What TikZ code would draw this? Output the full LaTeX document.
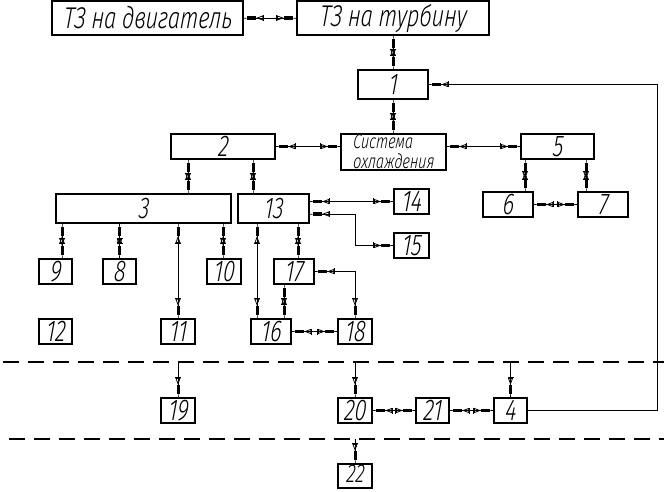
\documentclass[tikz,border=0pt]{standalone}
\usepackage{fontspec}
\setmainfont{Fira Sans Light}[ItalicFont={Fira Sans Light Italic}, ItalicFeatures={FakeSlant=0.08}, FakeStretch=0.72]
\usetikzlibrary{arrows.meta}
\tikzset{
  box/.style={draw, line width=1.1pt, inner sep=0pt, font=\itshape\fontsize{30}{32}\selectfont},
  sq/.style={box, minimum width=34pt, minimum height=25pt},
  conn/.style={line width=0.9pt},
  dbl/.style={conn, {Rectangle[length=3.5pt,width=0.9pt,sep=0pt] Rectangle[length=9pt,width=3pt,sep=0pt] Triangle[open,length=7pt,width=5pt,line width=0.8pt,sep=0pt] Bar[width=6pt,line width=1pt,sep=0pt]}-{Bar[width=6pt,line width=1pt,sep=0pt] Triangle[open,length=7pt,width=5pt,line width=0.8pt,sep=0pt] Rectangle[length=9pt,width=3pt,sep=0pt] Rectangle[length=3.5pt,width=0.9pt,sep=0pt]}},
  sgl/.style={conn, -{Bar[width=6pt,line width=1pt,sep=0pt] Triangle[open,length=7pt,width=5pt,line width=0.8pt,sep=0pt] Rectangle[length=9pt,width=3pt,sep=0pt] Rectangle[length=3.5pt,width=0.9pt,sep=0pt]}},
  dashline/.style={line width=1.3pt, dash pattern=on 16pt off 9pt},
}
\begin{document}
\begin{tikzpicture}[x=1pt,y=-1pt]
\useasboundingbox (0,0) rectangle (665,492);
% helper coordinates
\coordinate (c188) at (188,0);
\coordinate (c253) at (253,0);
\coordinate (c525) at (525,0);
\coordinate (c586) at (586,0);
\coordinate (c62) at (62,0);
\coordinate (c223) at (223,0);
\coordinate (c257) at (257,0);
\coordinate (c298) at (298,0);
\coordinate (c284) at (284,0);
\coordinate (c355) at (355,0);
\coordinate (c657) at (657,0);
\coordinate (r214) at (0,214);
\coordinate (d1s) at (3,362);
\coordinate (d1e) at (664,362);
\coordinate (d2s) at (9,439);
\coordinate (d2e) at (664,439);
% boxes
\node[box, minimum width=191pt, minimum height=34pt] (tzd) at (147.5,18) {ТЗ на двигатель};
\node[box, minimum width=192pt, minimum height=34pt] (tzt) at (393,18) {ТЗ на турбину};
\node[box, minimum width=70pt, minimum height=29pt] (b1) at (393,84.5) {1};
\node[box, minimum width=104pt, minimum height=25pt] (b2) at (223,146.5) {2};
\node[box, minimum width=105pt, minimum height=36pt, align=left, font=\itshape\fontsize{20}{20}\selectfont] (sys) at (393.5,152) {Система\\охлаждения};
\node[box, minimum width=73pt, minimum height=25pt] (b5) at (557.5,146.5) {5};
\node[box, minimum width=175pt, minimum height=29pt] (b3) at (143.5,208.5) {3};
\node[box, minimum width=71pt, minimum height=29pt] (b13) at (273.5,208.5) {13};
\node[sq, minimum width=35pt] (b14) at (411.5,201.5) {14};
\node[sq, minimum width=35pt] (b15) at (411.5,245.5) {15};
\node[sq, minimum width=50pt] (b6) at (508,204.5) {6};
\node[sq, minimum width=50pt] (b7) at (603,204.5) {7};
\node[sq, minimum width=33pt] (b9) at (55.5,271.5) {9};
\node[sq, minimum width=33pt] (b8) at (119.5,271.5) {8};
\node[sq] (b10) at (224,271.5) {10};
\node[sq, minimum width=40pt] (b17) at (294,271.5) {17};
\node[sq, minimum width=33pt] (b12) at (55.5,331.5) {12};
\node[sq] (b11) at (178,331.5) {11};
\node[sq, minimum width=40pt] (b16) at (271,331.5) {16};
\node[sq] (b18) at (355,331.5) {18};
\node[sq] (b19) at (178,410.5) {19};
\node[sq] (b20) at (355,410.5) {20};
\node[sq, minimum width=33pt] (b21) at (432.5,410.5) {21};
\node[sq, minimum width=33pt] (b4) at (510.5,410.5) {4};
\node[sq, minimum height=24pt, font=\itshape\fontsize{26}{28}\selectfont, text height=15pt, text depth=3pt] (b22) at (355,476) {22};
% dashed boundaries
\draw[dashline] (d1s) -- (d1e);
\draw[dashline] (d2s) -- (d2e);
% connectors
\draw[dbl] (tzd) -- (tzt);
\draw[dbl] (tzt) -- (b1);
\draw[dbl] (b1.south) -- (b1.south |- sys.north);
\draw[dbl] (b2.east) -- (b2.east -| sys.west);
\draw[dbl] (b5.west -| sys.east) -- (b5.west);
\draw[dbl] (b2.south -| c188) -- (b3.north -| c188);
\draw[dbl] (b2.south -| c253) -- (b13.north -| c253);
\draw[dbl] (b5.south -| c525) -- (b6.north -| c525);
\draw[dbl] (b5.south -| c586) -- (b7.north -| c586);
\draw[dbl] (b6) -- (b7);
\draw[dbl] (b3.south -| c62) -- (b9.north -| c62);
\draw[dbl] (b3.south -| b8.north) -- (b8.north);
\draw[dbl] (b3.south -| b11.north) -- (b11.north);
\draw[dbl] (b3.south -| c223) -- (b10.north -| c223);
\draw[dbl] (b13.east |- b14.west) -- (b14.west);
\draw[dbl] (b13.east |- r214) -- (c355 |- r214) -- (c355 |- b15.west) -- (b15.west);
\draw[dbl] (b13.south -| c257) -- (b16.north -| c257);
\draw[dbl] (b13.south -| c298) -- (b17.north -| c298);
\draw[dbl] (b17.south -| c284) -- (b16.north -| c284);
\draw[dbl] (b17.east) -- (b17.east -| b18.north) -- (b18.north);
\draw[dbl] (b16) -- (b18);
\draw[sgl] (b19.north |- d1s) -- (b19.north);
\draw[sgl] (b20.north |- d1s) -- (b20.north);
\draw[sgl] (b4.north |- d1s) -- (b4.north);
\draw[sgl] (b22.north |- d2s) -- (b22.north);
\draw[dbl] (b20) -- (b21);
\draw[dbl] (b21) -- (b4);
\draw[sgl] (b4.east) -- (b4.east -| c657) -- (c657 |- b1.east) -- (b1.east);
\end{tikzpicture}
\end{document}
